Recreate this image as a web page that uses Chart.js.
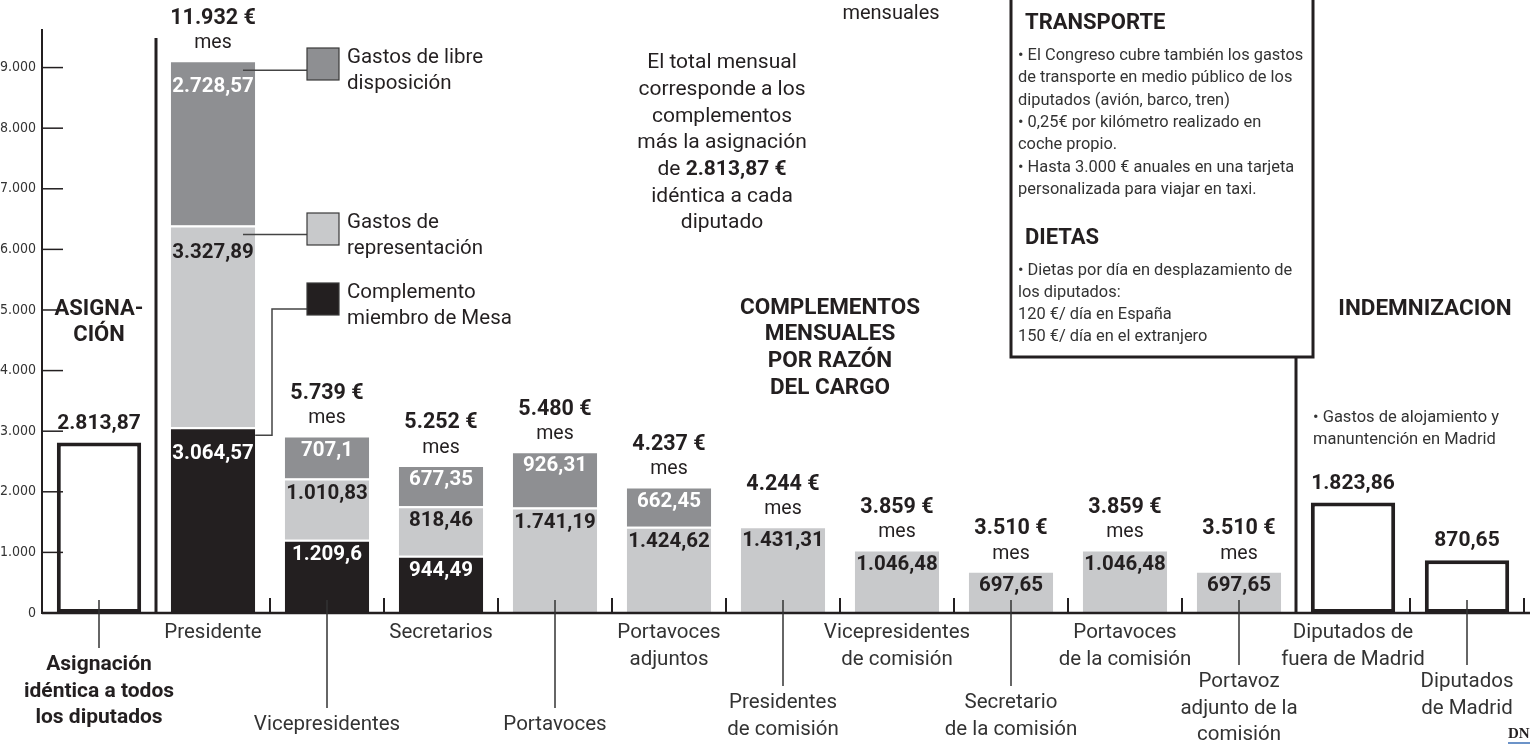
<!DOCTYPE html>
<html>
<head>
<meta charset="utf-8">
<script src="https://cdn.jsdelivr.net/npm/chart.js@4"></script>
<style>
  html, body { margin: 0; padding: 0; background: #fff; }
  canvas { display: block; }
</style>
</head>
<body>
<canvas id="chart" width="1530" height="744"></canvas>
<script>
// categorias (una barra por cargo)
const categories = [
    'Asignación', 'Presidente', 'Vicepresidentes', 'Secretarios', 'Portavoces',
    'Portavoces adjuntos', 'Presidentes de comisión', 'Vicepresidentes de comisión',
    'Secretario de la comisión', 'Portavoces de la comisión',
    'Portavoz adjunto de la comisión', 'Diputados de fuera de Madrid', 'Diputados de Madrid'
];

// series, en euros al mes
const complementoMesa = [null, 3064.57, 1209.6, 944.49, null, null, null, null, null, null, null, null, null];
const gastosRepresentacion = [null, 3327.89, 1010.83, 818.46, 1741.19, 1424.62, 1431.31, 1046.48, 697.65, 1046.48, 697.65, null, null];
const gastosLibre = [null, 2728.57, 707.1, 677.35, 926.31, 662.45, null, null, null, null, null, null, null];
const asignacionIndemnizacion = [2813.87, null, null, null, null, null, null, null, null, null, null, 1823.86, 870.65];

// total mensual que pone encima de cada barra
const totalMes = [null, '11.932', '5.739', '5.252', '5.480', '4.237', '4.244', '3.859', '3.510', '3.859', '3.510', null, null];

// marcas del eje y
const yTicks = [0, 1000, 2000, 3000, 4000, 5000, 6000, 7000, 8000, 9000];

// etiquetas de categoria, en lineas
const categoryLines = [
    ['Asignación', 'idéntica a todos', 'los diputados'],
    ['Presidente'],
    ['Vicepresidentes'],
    ['Secretarios'],
    ['Portavoces'],
    ['Portavoces', 'adjuntos'],
    ['Presidentes', 'de comisión'],
    ['Vicepresidentes', 'de comisión'],
    ['Secretario', 'de la comisión'],
    ['Portavoces', 'de la comisión'],
    ['Portavoz', 'adjunto de la', 'comisión'],
    ['Diputados de', 'fuera de Madrid'],
    ['Diputados', 'de Madrid']
];
// altura de la primera linea de cada etiqueta (las bajas llevan linea guia)
const labelY = [665, 633, 725, 633, 725, 633, 703, 633, 703, 633, 682, 633, 682];

const INK = '#231f20';
const DARK = '#8e8f92';
const LIGHT = '#c8c9cb';
const FONT = 'Roboto, "Noto Sans", sans-serif';
const NARROW = '"Liberation Sans Narrow", "DejaVu Sans Condensed", sans-serif';

function fmt(v) {
    const parts = String(v).split('.');
    const g = parts[0].replace(/\B(?=(\d{3})+(?!\d))/g, '.');
    return parts[1] ? g + ',' + parts[1] : g;
}

function text(ctx, s, x, y, font, color, align) {
    ctx.font = font;
    ctx.fillStyle = color || INK;
    ctx.textAlign = align || 'center';
    ctx.textBaseline = 'middle';
    ctx.fillText(s, x, y);
}

function line(ctx, pts, width, color) {
    ctx.beginPath();
    ctx.moveTo(pts[0][0], pts[0][1]);
    for (let i = 1; i < pts.length; i++) ctx.lineTo(pts[i][0], pts[i][1]);
    ctx.lineWidth = width;
    ctx.strokeStyle = color || INK;
    ctx.stroke();
}

const decor = {
    id: 'decor',
    afterDraw(chart) {
        const ctx = chart.ctx;
        const xs = chart.scales.x;
        const ys = chart.scales.y;
        const area = chart.chartArea;
        const base = ys.getPixelForValue(0);
        const step = xs.getPixelForValue(1) - xs.getPixelForValue(0);
        ctx.save();

        // eje x y marcas pequeñas entre barras
        line(ctx, [[area.left, base], [1530, base]], 2.5);
        for (let i = 0; i < categories.length; i++) {
            const bx = xs.getPixelForValue(i) + step / 2;
            if (i === 0 || i === 10) continue;
            line(ctx, [[bx, base - 15], [bx, base]], 2);
        }
        // separadores grandes
        const s1 = xs.getPixelForValue(0) + step / 2;
        const s2 = xs.getPixelForValue(10) + step / 2;
        line(ctx, [[s1, 38], [s1, base]], 3);
        line(ctx, [[s2, 357], [s2, base]], 3);

        // marcas del eje y hacia dentro
        ys.ticks.forEach(t => {
            if (t.value === 0) return;
            const y = ys.getPixelForValue(t.value);
            line(ctx, [[area.left, y], [area.left + 21, y]], 1.5);
        });

        // valores dentro de los segmentos
        [0, 1, 2].forEach(di => {
            const meta = chart.getDatasetMeta(di);
            const ds = chart.data.datasets[di];
            meta.data.forEach((el, i) => {
                const v = ds.data[i];
                if (v == null) return;
                const off = i === 1 ? 27 : 15;
                text(ctx, fmt(v), el.x, el.y + off, 'bold 20.5px ' + FONT, di === 1 ? INK : '#fff');
            });
        });

        // barras huecas: valor encima
        chart.getDatasetMeta(3).data.forEach((el, i) => {
            const v = asignacionIndemnizacion[i];
            if (v == null) return;
            text(ctx, fmt(v), el.x, el.y - 19, 'bold 21px ' + FONT, INK);
        });

        // totales por mes
        totalMes.forEach((t, i) => {
            if (!t) return;
            let top = base;
            [0, 1, 2].forEach(di => {
                const el = chart.getDatasetMeta(di).data[i];
                if (chart.data.datasets[di].data[i] != null) top = Math.min(top, el.y);
            });
            const x = xs.getPixelForValue(i);
            text(ctx, t + ' €', x, top - 42, 'bold 21.5px ' + FONT, INK);
            text(ctx, 'mes', x, top - 17, '19.5px ' + FONT, INK);
        });

        // etiquetas de categoria
        categoryLines.forEach((lines, i) => {
            const x = xs.getPixelForValue(i);
            if (labelY[i] > 640) line(ctx, [[x, 600], [x, labelY[i] - 17]], 1.5, '#333');
            lines.forEach((s, k) => {
                text(ctx, s, x, labelY[i] + k * 26.5, (i === 0 ? 'bold 21px ' : '20.5px ') + FONT, i === 0 ? INK : '#333');
            });
        });

        // leyenda con lineas guia hacia la barra del presidente
        const pd = chart.getDatasetMeta(2).data[1];
        const pl = chart.getDatasetMeta(1).data[1];
        const pb = chart.getDatasetMeta(0).data[1];
        const sw = [
            [DARK, 48, ['Gastos de libre', 'disposición']],
            [LIGHT, 213, ['Gastos de', 'representación']],
            [INK, 283, ['Complemento', 'miembro de Mesa']]
        ];
        line(ctx, [[pd.x + 30, pd.y + 10], [307, pd.y + 10]], 1.5, '#444');
        line(ctx, [[pl.x + 30, pl.y + 9], [307, pl.y + 9]], 1.5, '#444');
        line(ctx, [[pb.x + pb.width / 2, pb.y + 8], [272, pb.y + 8], [272, 309], [307, 309]], 1.5, '#444');
        sw.forEach(([c, y, lab]) => {
            ctx.fillStyle = c;
            ctx.fillRect(307, y, 32, 32);
            ctx.strokeStyle = '#3a3a3a';
            ctx.lineWidth = 1.2;
            ctx.strokeRect(307, y, 32, 32);
            text(ctx, lab[0], 347, y + 10, '20.5px ' + FONT, INK, 'left');
            text(ctx, lab[1], 347, y + 36, '20.5px ' + FONT, INK, 'left');
        });

        // textos sueltos
        text(ctx, 'mensuales', 891, 14, '20px ' + FONT, INK);
        const nota = ['El total mensual', 'corresponde a los', 'complementos', 'más la asignación'];
        nota.forEach((s, k) => text(ctx, s, 722, 63 + k * 26.7, '21px ' + FONT, INK));
        ctx.font = '21px ' + FONT;
        const w1 = ctx.measureText('de ').width;
        ctx.font = 'bold 21px ' + FONT;
        const w2 = ctx.measureText('2.813,87 €').width;
        const sx = 722 - (w1 + w2) / 2;
        text(ctx, 'de ', sx, 170, '21px ' + FONT, INK, 'left');
        text(ctx, '2.813,87 €', sx + w1, 170, 'bold 21px ' + FONT, INK, 'left');
        text(ctx, 'idéntica a cada', 722, 197, '21px ' + FONT, INK);
        text(ctx, 'diputado', 722, 223, '21px ' + FONT, INK);

        ['COMPLEMENTOS', 'MENSUALES', 'POR RAZÓN', 'DEL CARGO'].forEach((s, k) =>
            text(ctx, s, 830, 308 + k * 26.7, 'bold 22.5px ' + FONT, INK));
        text(ctx, 'ASIGNA-', 99, 309, 'bold 22px ' + FONT, INK);
        text(ctx, 'CIÓN', 99, 335, 'bold 22px ' + FONT, INK);
        text(ctx, 'INDEMNIZACION', 1425, 309, 'bold 22.5px ' + FONT, INK);

        // recuadro de transporte y dietas
        ctx.lineWidth = 3;
        ctx.strokeStyle = INK;
        ctx.strokeRect(1011, -3, 302, 360);
        text(ctx, 'TRANSPORTE', 1025, 23, 'bold 22px ' + FONT, INK, 'left');
        const tr = [
            '• El Congreso cubre también los gastos',
            'de transporte en medio público de los',
            'diputados (avión, barco, tren)',
            '• 0,25€ por kilómetro realizado en',
            'coche propio.',
            '• Hasta 3.000 € anuales en una tarjeta',
            'personalizada para viajar en taxi.'
        ];
        tr.forEach((s, k) => text(ctx, s, 1018, 56 + k * 22.3, '16.4px ' + FONT, '#333', 'left'));
        text(ctx, 'DIETAS', 1025, 238, 'bold 22px ' + FONT, INK, 'left');
        const di = [
            '• Dietas por día en desplazamiento de',
            'los diputados:',
            '120 €/ día en España',
            '150 €/ día en el extranjero'
        ];
        di.forEach((s, k) => text(ctx, s, 1018, 271 + k * 22, '16.4px ' + FONT, '#333', 'left'));

        text(ctx, '• Gastos de alojamiento y', 1313, 418, '16.5px ' + FONT, '#333', 'left');
        text(ctx, 'manuntención en Madrid', 1313, 440, '16.5px ' + FONT, '#333', 'left');

        // firma
        text(ctx, 'DN', 1508, 734, 'bold 15px "Liberation Serif", serif', INK, 'left');
        line(ctx, [[1508, 743], [1530, 743]], 1.5, '#3b6fb6');

        ctx.restore();
    }
};

const data = {
    labels: categories,
    datasets: [
        {
            label: 'Complemento miembro de Mesa',
            data: complementoMesa,
            backgroundColor: INK,
            borderColor: '#fff',
            borderWidth: { top: 2, left: 0, right: 0, bottom: 0 },
            borderSkipped: false
        },
        {
            label: 'Gastos de representación',
            data: gastosRepresentacion,
            backgroundColor: LIGHT,
            borderColor: '#fff',
            borderWidth: { top: 2, left: 0, right: 0, bottom: 0 },
            borderSkipped: false
        },
        {
            label: 'Gastos de libre disposición',
            data: gastosLibre,
            backgroundColor: DARK,
            borderColor: '#fff',
            borderWidth: { top: 2, left: 0, right: 0, bottom: 0 },
            borderSkipped: false
        },
        {
            label: 'Asignación / indemnización',
            data: asignacionIndemnizacion,
            backgroundColor: '#fff',
            borderColor: INK,
            borderWidth: 4,
            borderSkipped: false
        }
    ]
};

const config = {
    type: 'bar',
    data: data,
    options: {
        responsive: false,
        animation: false,
        layout: { padding: { top: 30, right: 6, left: 0, bottom: 0 } },
        datasets: {
            bar: { categoryPercentage: 1, barPercentage: 0.74 }
        },
        scales: {
            x: {
                stacked: true,
                grid: { display: false, drawTicks: false },
                border: { display: false },
                ticks: { display: false },
                afterFit: s => { s.height = 131; }
            },
            y: {
                stacked: true,
                min: 0,
                max: 9620,
                grid: { display: false, drawTicks: false },
                border: { display: true, color: INK, width: 2 },
                ticks: {
                    stepSize: 1000,
                    padding: 6,
                    color: '#333',
                    font: { family: NARROW, size: 14 },
                    callback: v => fmt(v)
                },
                afterBuildTicks: s => {
                    s.ticks = yTicks.map(v => ({ value: v }));
                },
                afterFit: s => { s.width = 42; }
            }
        },
        plugins: {
            legend: { display: false },
            tooltip: { enabled: false }
        }
    },
    plugins: [decor]
};

const chart = new Chart(document.getElementById('chart').getContext('2d'), config);
</script>
</body>
</html>
